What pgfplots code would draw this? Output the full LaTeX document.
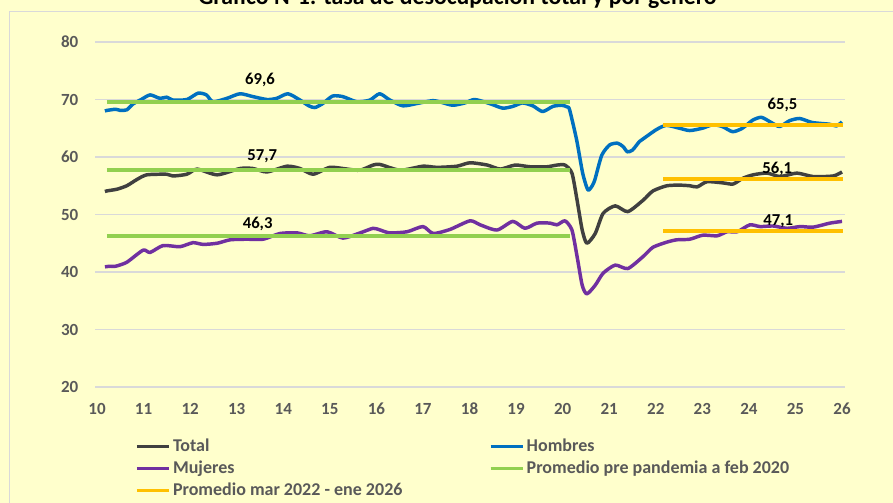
\documentclass[border=0pt]{standalone}
\usepackage{fontspec}
\setmainfont{Carlito}
\usepackage{pgfplots}
\pgfplotsset{compat=1.18}
\definecolor{bg}{HTML}{FFFFCC}
\definecolor{framec}{HTML}{D9D9D9}
\definecolor{gridc}{HTML}{D9D9D9}
\definecolor{textgray}{HTML}{595959}
\definecolor{ctotal}{HTML}{404040}
\definecolor{chom}{HTML}{0070C0}
\definecolor{cmuj}{HTML}{7030A0}
\definecolor{cgreen}{HTML}{92D050}
\definecolor{corange}{HTML}{FFC000}
\begin{document}
\begin{tikzpicture}[x=0.75pt,y=0.75pt]
\useasboundingbox (0,0) rectangle (893,503);
\fill[bg] (0,0) rectangle (893,503);
\draw[framec, line width=0.9pt] (9.5,-5) -- (9.5,491.5) -- (900,491.5);
\node[anchor=base, font=\fontsize{17.8}{20}\selectfont\bfseries] at (457.5,498) {Gráfico N°1: tasa de desocupación total y por género};
\begin{axis}[
  at={(71.25pt,87pt)}, anchor=south west,
  scale only axis, width=562.5pt, height=258.75pt,
  xmin=9.957, xmax=26.064, ymin=20, ymax=80,
  xtick={10,11,...,26}, ytick={20,30,...,80},
  ymajorgrids, grid style={gridc, line width=0.9pt},
  axis line style={draw=none}, major tick length=0pt,
  /pgf/number format/assume math mode=true,
  tick label style={font=\fontsize{12.75}{15}\selectfont\bfseries, text=textgray},
  xticklabel style={yshift=-8.5pt},
  yticklabel style={xshift=-9pt},
  legend columns=2,
  legend style={at={(axis description cs:0.0535,-0.147)}, anchor=north west,
    draw=none, fill=none, inner sep=0pt,
    font=\fontsize{13.5}{16}\selectfont\bfseries, text=textgray,
    cells={anchor=west},
    nodes={inner sep=0pt, text height=10pt, text depth=3.5pt},
    row sep=3pt,
    /tikz/every odd column/.append style={column sep=2pt}},
  legend image code/.code={\draw[#1, line width=2.25pt] (0pt,0pt) -- (24pt,0pt);},
  every axis plot/.append style={line width=2.6pt, line join=round},
]
\addplot[ctotal, smooth, tension=0.4] coordinates {
(10.17,54.0)(10.21,54.1)(10.43,54.4)(10.64,55.0)(10.86,56.1)(11.07,56.9)(11.50,57.0)(11.63,56.7)(11.93,57.0)(12.15,57.9)(12.58,56.9)(13.07,58.0)(13.35,58.0)(13.65,57.4)(14.08,58.4)(14.36,58.0)(14.64,57.0)(15.00,58.2)(15.37,57.9)(15.65,57.7)(15.93,58.6)(16.08,58.7)(16.51,57.7)(17.00,58.4)(17.30,58.2)(17.73,58.4)(18.01,59.0)(18.38,58.6)(18.66,57.9)(18.98,58.6)(19.30,58.3)(19.66,58.3)(19.88,58.6)(20.05,58.6)(20.20,57.2)(20.31,52.5)(20.42,47.3)(20.52,45.0)(20.70,46.7)(20.87,50.2)(21.13,51.5)(21.40,50.5)(21.73,52.5)(21.94,54.1)(22.24,55.0)(22.52,55.1)(22.73,55.0)(22.89,54.8)(23.10,55.7)(23.44,55.5)(23.66,55.3)(23.87,56.3)(24.09,56.9)(24.39,57.2)(24.67,56.6)(25.03,57.2)(25.38,56.6)(25.81,56.7)(26.00,57.4)
};
\addlegendentry{\makebox[237pt][l]{Total}}
\addplot[chom, smooth, tension=0.4] coordinates {
(10.17,68.0)(10.21,68.1)(10.40,68.3)(10.50,68.1)(10.64,68.2)(10.77,69.2)(10.95,70.0)(11.14,70.8)(11.35,70.2)(11.50,70.4)(11.63,69.9)(11.93,70.0)(12.17,71.1)(12.35,70.8)(12.49,69.6)(12.79,70.2)(13.07,71.0)(13.35,70.5)(13.65,70.0)(13.86,70.2)(14.10,71.0)(14.36,69.9)(14.55,68.9)(14.68,68.6)(14.85,69.3)(15.06,70.6)(15.28,70.5)(15.58,69.6)(15.86,69.9)(16.07,71.0)(16.29,69.9)(16.57,68.9)(16.87,69.3)(17.21,69.8)(17.40,69.5)(17.64,69.0)(17.90,69.4)(18.11,70.0)(18.43,69.3)(18.71,68.5)(18.93,68.8)(19.14,69.4)(19.36,68.9)(19.57,67.9)(19.79,68.8)(19.98,69.0)(20.10,68.7)(20.15,68.2)(20.30,63.0)(20.43,57.2)(20.54,54.3)(20.62,54.8)(20.69,56.0)(20.84,60.3)(21.01,62.1)(21.18,62.4)(21.30,61.8)(21.39,60.9)(21.50,61.2)(21.65,62.7)(21.72,63.1)(22.02,64.8)(22.23,65.5)(22.51,65.0)(22.73,64.6)(23.00,65.0)(23.22,65.6)(23.43,65.3)(23.65,64.4)(23.86,65.0)(24.08,66.4)(24.27,66.9)(24.48,66.0)(24.66,65.3)(24.87,66.3)(25.09,66.7)(25.36,66.0)(25.73,65.7)(25.88,65.4)(26.00,66.1)
};
\addlegendentry{Hombres}
\addplot[cmuj, smooth, tension=0.4] coordinates {
(10.17,40.9)(10.28,41.0)(10.40,41.0)(10.64,41.7)(10.99,43.8)(11.14,43.4)(11.42,44.6)(11.78,44.4)(12.06,45.1)(12.28,44.8)(12.58,45.0)(12.86,45.6)(13.22,45.7)(13.57,45.7)(13.93,46.7)(14.30,46.8)(14.57,46.3)(14.94,47.0)(15.28,45.9)(15.65,46.8)(15.93,47.6)(16.08,47.3)(16.29,46.8)(16.66,47.0)(17.00,47.9)(17.22,46.7)(17.58,47.4)(18.01,48.9)(18.23,48.2)(18.59,47.3)(18.93,48.8)(19.19,47.6)(19.45,48.5)(19.73,48.5)(19.88,48.2)(20.05,48.9)(20.20,47.3)(20.31,42.7)(20.42,37.7)(20.52,36.2)(20.70,37.7)(20.87,39.8)(21.13,41.2)(21.40,40.6)(21.73,42.7)(21.94,44.3)(22.24,45.2)(22.45,45.6)(22.73,45.7)(23.01,46.4)(23.32,46.3)(23.53,47.0)(23.75,47.0)(24.02,48.2)(24.24,47.9)(24.52,48.0)(24.82,47.6)(25.10,47.9)(25.38,47.8)(25.74,48.5)(26.00,48.8)
};
\addlegendentry{\makebox[237pt][l]{Mujeres}}
\addplot[cgreen, line width=3pt] coordinates {(10.21,69.6)(20.16,69.6)};
\addlegendentry{Promedio pre pandemia a feb 2020}
\addplot[cgreen, line width=3pt, forget plot] coordinates {(10.21,57.7)(20.16,57.7)};
\addplot[cgreen, line width=3pt, forget plot] coordinates {(10.21,46.3)(20.16,46.3)};
\addplot[corange, line width=3pt] coordinates {(22.16,65.5)(26.02,65.5)};
\addlegendentry{\makebox[237pt][l]{Promedio mar 2022 - ene 2026}}
\addplot[corange, line width=3pt, forget plot] coordinates {(22.16,56.1)(26.02,56.1)};
\addplot[corange, line width=3pt, forget plot] coordinates {(22.16,47.1)(26.02,47.1)};
\begin{scope}[every node/.style={font=\fontsize{12.5}{15}\selectfont\bfseries, text=black}]
\node at (axis cs:13.50,73.4) {69,6};
\node at (axis cs:13.55,60.05) {57,7};
\node at (axis cs:13.45,48.3) {46,3};
\node at (axis cs:24.72,69.04) {65,5};
\node at (axis cs:24.61,58.0) {56,1};
\node at (axis cs:24.63,48.75) {47,1};
\end{scope}
\end{axis}
\end{tikzpicture}
\end{document}
